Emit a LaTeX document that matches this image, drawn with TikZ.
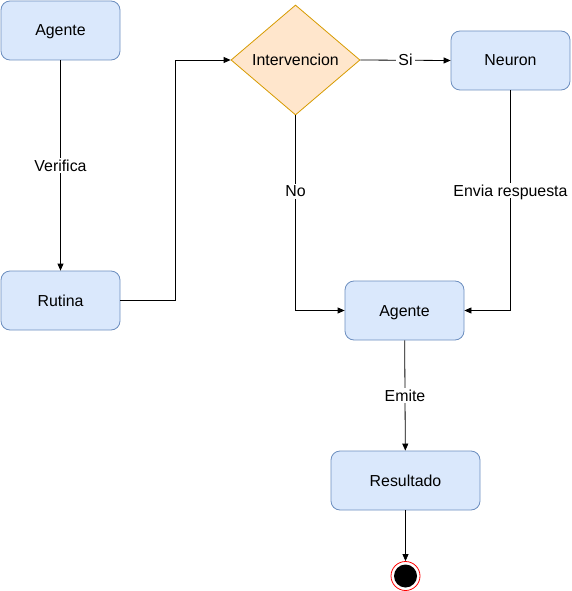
\documentclass[tikz,border=0pt]{standalone}
\usepackage{fontspec}
\setmainfont{Liberation Sans}
\usetikzlibrary{shapes.geometric,arrows.meta}
\definecolor{bfill}{HTML}{DAE8FC}
\definecolor{bline}{HTML}{6C8EBF}
\definecolor{ofill}{HTML}{FFE6CC}
\definecolor{oline}{HTML}{D79B00}
\begin{document}
\begin{tikzpicture}[x=1pt,y=-1pt,
  every node/.style={font=\fontsize{15.9}{18}\selectfont},
  txt/.style={text height=11pt,text depth=0pt},
  box/.style={txt,draw=bline,fill=bfill,rounded corners=9pt,minimum width=119pt,minimum height=59pt,inner sep=0pt,line width=0.8pt},
  dia/.style={txt,diamond,draw=oline,fill=ofill,minimum width=129pt,minimum height=110pt,inner sep=0pt,line width=0.8pt,aspect=1.17},
  conn/.style={draw=black,line width=0.8pt,-{Triangle[length=7pt,width=6pt]}},
  lbl/.style={txt,fill=white,inner sep=2pt}]
\useasboundingbox (0,0) rectangle (571,591);
\node[box] (a1) at (60.5,30.5) {Agente};
\node[box] (r) at (60.5,300.5) {Rutina};
\node[dia] (d) at (295.5,60) {Intervencion};
\node[box] (n) at (510.5,60.5) {Neuron};
\node[box] (a2) at (404.5,310.5) {Agente};
\node[box,minimum width=149pt] (res) at (405.5,480.5) {Resultado};
\node[circle,draw=red,line width=0.8pt,minimum size=29pt,inner sep=0pt] (end) at (405.5,576) {};
\node[circle,fill=black,minimum size=23pt,inner sep=0pt] at (end) {};
\draw[conn] (a1) -- node[lbl] {Verifica} (r);
\draw[conn] (r.east) -- (175,300.5) -- (175,60) -- (d.west);
\draw[conn] (d.east) -- node[lbl] {Si} (n.west);
\draw[conn] (d.south) -- node[lbl,pos=0.39] {No} (295.5,310.5) -- (a2.west);
\draw[conn] (n.south) -- node[lbl,pos=0.455] {Envia respuesta} (510.5,310.5) -- (a2.east);
\draw[conn] (a2) -- node[lbl] {Emite} (res);
\draw[conn] (res) -- (end);
\end{tikzpicture}
\end{document}
